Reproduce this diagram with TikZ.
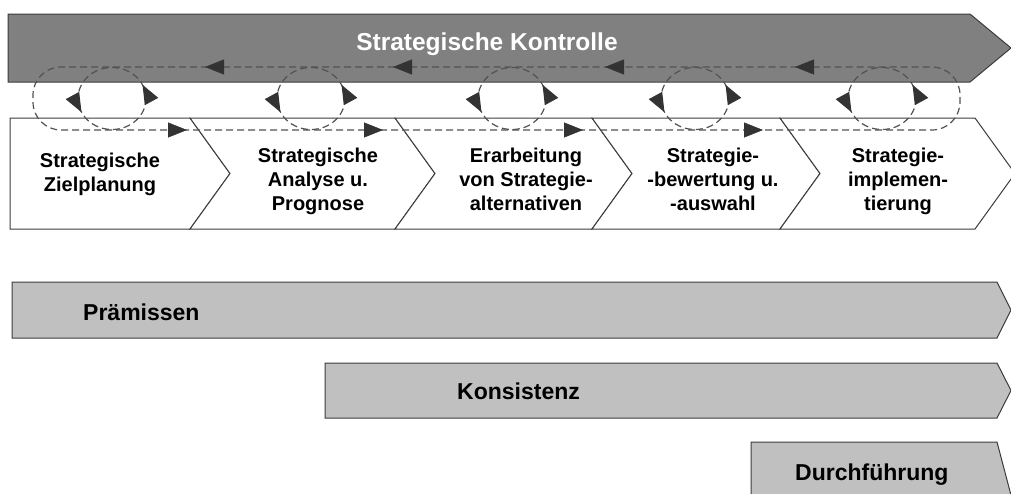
\documentclass[tikz,border=0pt]{standalone}
\usepackage{fontspec}
\setmainfont{Liberation Sans}
\usetikzlibrary{arrows.meta,decorations.markings}
\definecolor{kontrollgrau}{HTML}{808080}
\definecolor{balkengrau}{HTML}{C0C0C0}
\definecolor{liniengrau}{HTML}{3C3C3C}
\tikzset{
    kontrollpfeil/.style={draw=liniengrau,fill=kontrollgrau,line width=1pt},
    phase/.style={draw=liniengrau,fill=white,line width=1pt},
    balken/.style={draw=liniengrau,fill=balkengrau,line width=1pt},
    phasentext/.style={align=center,anchor=north,inner sep=0pt,
        font=\bfseries\fontsize{20}{24}\selectfont},
    balkentext/.style={anchor=base west,inner sep=0pt,
        font=\bfseries\fontsize{23}{27}\selectfont},
    spitze/.tip={Triangle[length=19pt,width=15pt]},
    rueck/.style={draw=black!68,line width=1.2pt,dash pattern=on 7pt off 4pt},
    kreis/.style={rueck,postaction={decorate},
        decoration={markings,
            mark=at position 0.07 with {\arrow[black!80]{spitze}},
            mark=at position 0.57 with {\arrow[black!80]{spitze}}}}
}

\begin{document}
\begin{tikzpicture}[x=1pt,y=-1pt]

    \useasboundingbox (0,0) rectangle (1011,493);

    % Kontrolle
    \draw[kontrollpfeil] (8,14) -- (970,14) -- (1011,48) -- (970,82) -- (8,82) -- cycle;
    \node[text=white,anchor=base,inner sep=0pt,font=\bfseries\fontsize{24.5}{29}\selectfont]
        (kontrolle) at (487,50) {Strategische Kontrolle};

    % Phasen
    \draw[phase] (10,118) -- (190,118) -- (230,173.5) -- (190,229) -- (10,229) -- cycle;
    \foreach \l/\r in {190/395,395/592,592/780,780/975}
        \draw[phase] (\l,118) -- (\r,118) -- (\r+40,173.5) -- (\r,229) -- (\l,229) -- (\l+40,173.5) -- cycle;

    \node[phasentext] (ziel)            at (100,152.4) {Strategische\\Zielplanung};
    \node[phasentext] (analyse)         at (318,147.4) {Strategische\\Analyse u.\\Prognose};
    \node[phasentext] (alternativen)    at (526,147.4) {Erarbeitung\\von Strategie-\\alternativen};
    \node[phasentext] (bewertung)       at (713,147.4) {Strategie-\\-bewertung u.\\-auswahl};
    \node[phasentext] (implementierung) at (898,147.4) {Strategie-\\implemen-\\tierung};

    % Regelkreise
    \draw[rueck,rounded corners=28] (500,67) -- (33,67) -- (33,130) -- (960,130) -- (960,67) -- cycle;
    \path[decorate,decoration={markings,
            mark=at position 137pt with {\arrow[black!80]{spitze}},
            mark=at position 327pt with {\arrow[black!80]{spitze}},
            mark=at position 539pt with {\arrow[black!80]{spitze}},
            mark=at position 727pt with {\arrow[black!80]{spitze}}}]
        (932,67) -- (61,67);
    \path[decorate,decoration={markings,
            mark=at position 126pt with {\arrow[black!80]{spitze}},
            mark=at position 322pt with {\arrow[black!80]{spitze}},
            mark=at position 522pt with {\arrow[black!80]{spitze}},
            mark=at position 702pt with {\arrow[black!80]{spitze}}}]
        (61,130) -- (932,130);
    \foreach \mx in {112,311,512,695,882}
        \draw[kreis] (\mx,98.5) ++(34,0) arc[start angle=0,end angle=-360,x radius=34,y radius=31];

    % Balken
    \draw[balken] (12,282) -- (997,282) -- (1011,310) -- (997,338) -- (12,338) -- cycle;
    \draw[balken] (325,363) -- (997,363) -- (1011,390.5) -- (997,418) -- (325,418) -- cycle;
    \draw[balken] (751,442) -- (997,442) -- (1012,499) -- (997,556) -- (751,556) -- cycle;

    \node[balkentext] (praemissen)    at (83,320)  {Prämissen};
    \node[balkentext] (konsistenz)    at (457,399) {Konsistenz};
    \node[balkentext] (durchfuehrung) at (795,480) {Durchführung};

\end{tikzpicture}
\end{document}
